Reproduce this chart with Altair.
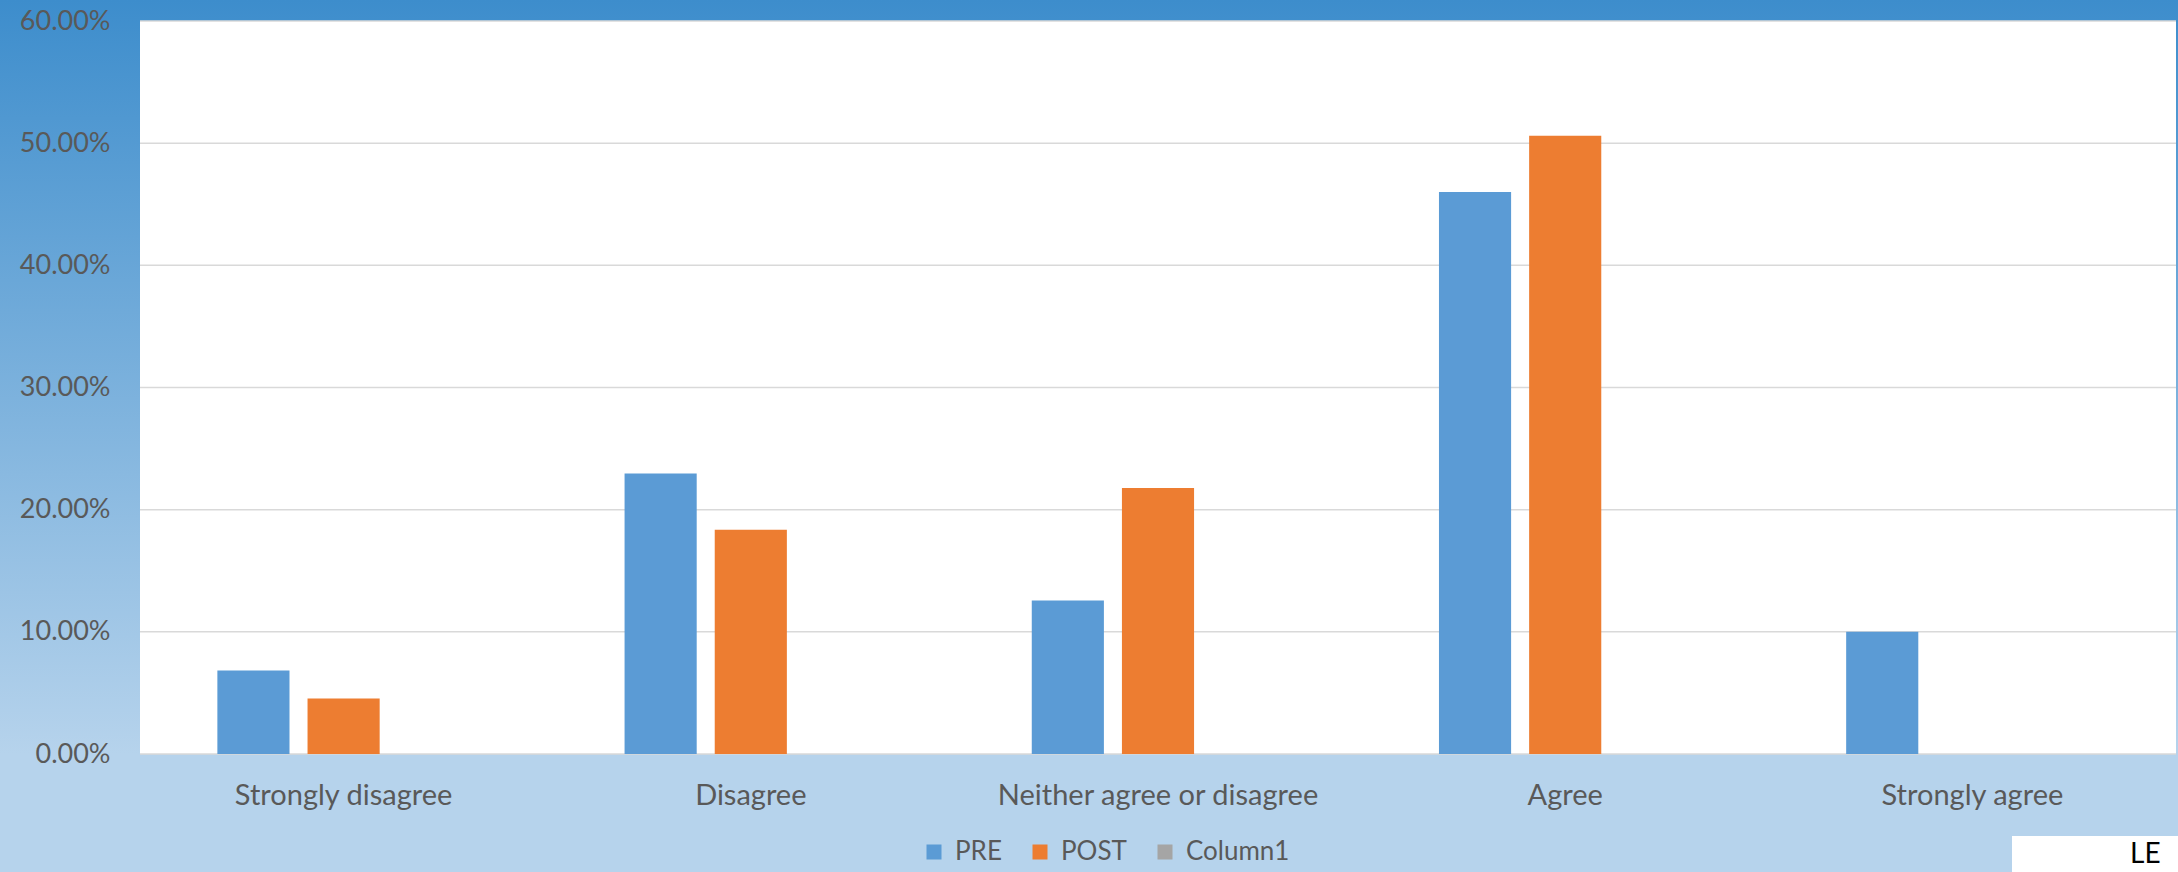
import altair as alt
import pandas as pd

# Survey responses, share of respondents per answer
categories = ["Strongly disagree", "Disagree", "Neither agree or disagree", "Agree", "Strongly agree"]
series_names = ["PRE", "POST", "Column1"]
series_colors = ["#5B9BD5", "#ED7D31", "#A5A5A5"]
pre_values = [0.0684, 0.2296, 0.1257, 0.4600, 0.1000]
post_values = [0.0455, 0.1835, 0.2177, 0.5060, 0.0]
tick_values = [0.0, 0.1, 0.2, 0.3, 0.4, 0.5, 0.6]

W, H = 2036, 733
PAD = {"left": 140, "top": 21, "right": 2, "bottom": 118}
FONT = "Lato"
TEXT = "#595959"

rows = []
for c, v in zip(categories, pre_values):
    rows.append({"answer": c, "series": "PRE", "share": v})
for c, v in zip(categories, post_values):
    rows.append({"answer": c, "series": "POST", "share": v})
bars_df = pd.DataFrame(rows)
grid_df = pd.DataFrame({"tick": tick_values})
one = pd.DataFrame({"k": [0]})

# blue backdrop behind the whole figure
backdrop = alt.Chart(one).mark_rect(
    fill=alt.LinearGradient(
        gradient="linear",
        stops=[alt.GradientStop(color="#3D8DCC", offset=0),
               alt.GradientStop(color="#B6D3EC", offset=1)],
        x1=0, x2=0, y1=0, y2=1,
    )
).encode(
    x=alt.value(-PAD["left"]), x2=alt.value(W + PAD["right"]),
    y=alt.value(-PAD["top"]), y2=alt.value(H),
)

# white plotting area
panel = alt.Chart(one).mark_rect(fill="white").encode(
    x=alt.value(0), x2=alt.value(W), y=alt.value(0), y2=alt.value(H)
)

grid = alt.Chart(grid_df).mark_rule(color="#D9D9D9", strokeWidth=1.5).encode(
    y=alt.Y("tick:Q", scale=alt.Scale(domain=[0, 0.6], nice=False)),
    x=alt.value(0), x2=alt.value(W),
)

bars = alt.Chart(bars_df).mark_bar().encode(
    x=alt.X(
        "answer:N",
        scale=alt.Scale(domain=categories, paddingInner=0.38, paddingOuter=0.19),
        axis=alt.Axis(title=None, labelAngle=0, labelFont=FONT, labelFontSize=29,
                      labelColor=TEXT, labelPadding=27, labelLimit=0, ticks=False,
                      domain=False, grid=False, zindex=1),
    ),
    xOffset=alt.XOffset("series:N", scale=alt.Scale(domain=series_names, paddingInner=0.2)),
    y=alt.Y(
        "share:Q",
        scale=alt.Scale(domain=[0, 0.6], nice=False),
        axis=alt.Axis(title=None, format=".2%", values=tick_values, labelFont=FONT,
                      labelFontSize=27, labelColor=TEXT, labelPadding=30, ticks=False,
                      domain=False, grid=False, zindex=1),
    ),
    color=alt.Color(
        "series:N",
        scale=alt.Scale(domain=series_names, range=series_colors),
        legend=alt.Legend(
            title=None, orient="none", legendX=781, legendY=818, direction="horizontal",
            symbolType="square", symbolSize=225, symbolStrokeWidth=0, labelFont=FONT,
            labelFontSize=26, labelColor=TEXT, labelOffset=8, columnPadding=25, zindex=1,
        ),
    ),
)

# badge in the lower right corner
badge = alt.Chart(one).mark_rect(fill="white").encode(
    x=alt.value(1872), x2=alt.value(W + PAD["right"]), y=alt.value(815), y2=alt.value(851)
)
badge_text = alt.Chart(one).mark_text(
    text="LE", font=FONT, fontSize=28, color="black", align="left", baseline="middle"
).encode(x=alt.value(1990), y=alt.value(834))

chart = alt.layer(backdrop, panel, grid, bars, badge, badge_text).properties(
    width=W, height=H, background="#B6D3EC", padding=PAD,
    autosize=alt.AutoSizeParams(type="none"),
).configure_view(stroke=None)

chart.save("out.html", embed_options={"renderer": "svg", "actions": False})
